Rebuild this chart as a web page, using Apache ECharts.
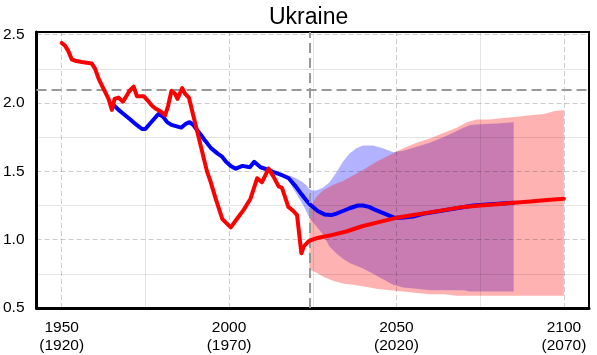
<!DOCTYPE html>
<html><head><meta charset="utf-8">
<script src="https://cdn.jsdelivr.net/npm/echarts@6/dist/echarts.min.js"></script>
<style>html,body{margin:0;padding:0;background:#fff}#c{width:597px;height:355px}</style>
</head><body><div id="c"></div>
<script>
const titleText = 'Ukraine';
const xTickValues = [1950, 2000, 2050, 2100];
const xTickLabels = ['1950\n(1920)', '2000\n(1970)', '2050\n(2020)', '2100\n(2070)'];
const xMinorGrid = [1975, 2025, 2075];
const yTickValues = [0.5, 1.0, 1.5, 2.0, 2.5];
const yMinorGrid = [0.75, 1.25, 1.75, 2.25];
const replacementLevel = 2.1;
const projectionStart = 2024;

// Period TFR (red)
const periodYears = [1950,1951,1952,1953,1954,1956,1959,1960,1961,1962,1963,1964,1965,1965.8,1967,1968.3,1969.3,1970.3,1971.5,1972.5,1973.3,1974.5,1976,1977,1978,1979.5,1980.9,1981.8,1982.8,1983.8,1984.6,1986,1986.8,1988,1989.2,1990.2,1991.7,1993.4,1994.4,1996,1998,2000.5,2002,2004.4,2006.4,2008.4,2009.8,2011.8,2013.3,2014.8,2015.8,2017.7,2019.2,2020.3,2021.6,2022.3,2023.8,2026,2030,2035,2040,2045,2050,2055,2060,2065,2070,2075,2080,2085,2090,2095,2100];
const periodTFR   = [2.44,2.42,2.38,2.32,2.31,2.30,2.29,2.25,2.18,2.13,2.08,2.03,1.95,2.03,2.04,2.01,2.05,2.09,2.12,2.05,2.05,2.05,2.01,1.98,1.96,1.94,1.91,1.98,2.09,2.07,2.03,2.11,2.07,2.04,1.92,1.82,1.67,1.50,1.43,1.30,1.15,1.09,1.14,1.22,1.30,1.45,1.42,1.52,1.46,1.39,1.38,1.24,1.21,1.18,0.90,0.95,0.99,1.01,1.03,1.06,1.10,1.13,1.16,1.18,1.20,1.22,1.24,1.25,1.26,1.27,1.28,1.29,1.30];

// Cohort TFR (blue)
const cohortYears = [1965.8,1967,1968.5,1970.5,1972.4,1974,1975,1976.4,1978.9,1980.3,1981.5,1982.8,1985.7,1987.2,1988.2,1989.3,1990.2,1991.5,1992.7,1994.6,1996.6,1997.8,1999.1,2000.5,2002,2004,2006.2,2007.5,2009.4,2011.9,2013.8,2016,2017.8,2019.9,2021.7,2023,2024.5,2026.5,2028.5,2030.5,2032,2034,2036,2038.5,2040,2041.8,2043.5,2045.5,2047.5,2049.5,2051.5,2055,2058,2063,2068,2073,2078,2085];
const cohortTFR   = [1.98,1.95,1.92,1.88,1.84,1.81,1.81,1.85,1.92,1.90,1.86,1.84,1.82,1.85,1.86,1.84,1.81,1.77,1.73,1.67,1.63,1.61,1.57,1.54,1.52,1.54,1.53,1.57,1.53,1.51,1.49,1.47,1.45,1.39,1.33,1.29,1.25,1.21,1.185,1.18,1.19,1.21,1.23,1.25,1.25,1.24,1.22,1.20,1.18,1.16,1.16,1.17,1.19,1.21,1.23,1.25,1.26,1.27];

// Cohort uncertainty band (blue)
const cohortBandYears = [2016.5,2018,2019,2020,2022,2023,2024,2025,2026,2028,2030,2032,2034,2036,2038,2040,2043,2046,2049,2052,2056,2060,2065,2070,2072,2075,2080,2085];
const cohortBandLow   = [1.47,1.43,1.38,1.34,1.26,1.21,1.16,1.13,1.10,1.04,0.95,0.90,0.86,0.83,0.81,0.79,0.75,0.71,0.67,0.65,0.64,0.63,0.63,0.63,0.62,0.62,0.62,0.62];
const cohortBandHigh  = [1.48,1.47,1.46,1.45,1.42,1.40,1.37,1.36,1.36,1.38,1.42,1.49,1.57,1.63,1.67,1.69,1.69,1.67,1.64,1.65,1.68,1.71,1.76,1.82,1.84,1.845,1.85,1.86];

// Period uncertainty band (red)
const periodBandYears = [2024,2026,2028,2031,2034,2037,2040,2044,2048,2052,2056,2060,2064,2068,2071,2074,2078,2082,2086,2090,2094,2097,2100];
const periodBandLow   = [0.78,0.76,0.73,0.70,0.68,0.67,0.66,0.64,0.63,0.62,0.61,0.60,0.60,0.59,0.59,0.59,0.59,0.59,0.59,0.59,0.59,0.59,0.59];
const periodBandHigh  = [1.22,1.31,1.36,1.40,1.43,1.47,1.51,1.57,1.62,1.67,1.71,1.74,1.78,1.82,1.86,1.88,1.88,1.89,1.90,1.91,1.92,1.94,1.95];

const FONT = '"Liberation Sans", Arial, Helvetica, sans-serif';
const zip = (xs, ys) => xs.map((x, i) => [x, ys[i]]);

function band(xs, lo, hi, color, z) {
  return {
    type: 'custom', z: z, silent: true, animation: false,
    data: xs.map((x, i) => [x, lo[i], hi[i]]),
    encode: { x: 0, y: [1, 2] },
    renderItem: function (params, api) {
      if (params.dataIndex !== 0) return null;
      const pts = [];
      for (let i = 0; i < xs.length; i++) pts.push(api.coord([xs[i], hi[i]]));
      for (let i = xs.length - 1; i >= 0; i--) pts.push(api.coord([xs[i], lo[i]]));
      return { type: 'polygon', shape: { points: pts }, style: { fill: color } };
    }
  };
}

const majorStyle = { color: 'rgba(0,0,0,0.2)', type: [5, 3], width: 1 };
const minorStyle = { color: 'rgba(0,0,0,0.1)', type: 'solid', width: 1 };
const refStyle = { color: '#999999', type: [10, 5], width: 2 };

const gridLines = []
  .concat(xTickValues.map(v => ({ xAxis: v, lineStyle: majorStyle })))
  .concat(xMinorGrid.map(v => ({ xAxis: v, lineStyle: minorStyle })))
  .concat(yTickValues.map(v => ({ yAxis: v, lineStyle: majorStyle })))
  .concat(yMinorGrid.map(v => ({ yAxis: v, lineStyle: minorStyle })));

const chart = echarts.init(document.getElementById('c'), null, { renderer: 'canvas' });
chart.setOption({
  animation: false,
  backgroundColor: '#ffffff',
  title: {
    text: titleText, left: 264, top: 1,
    textStyle: { fontFamily: FONT, fontSize: 23, fontWeight: 'normal', color: '#000' }
  },
  grid: { left: 32, right: 8, top: 32, bottom: 43, show: true, borderColor: '#000', borderWidth: 2, backgroundColor: 'transparent' },
  xAxis: {
    type: 'value', min: 1942.5, max: 2107.5,
    splitLine: { show: false }, axisTick: { show: false },
    axisLine: { show: true, onZero: false, lineStyle: { color: '#000', width: 3 } },
    axisLabel: {
      customValues: xTickValues, margin: 11,
      formatter: v => { const i = xTickValues.indexOf(v); return i >= 0 ? xTickLabels[i] : ''; },
      fontFamily: FONT, fontSize: 15.5, lineHeight: 18, color: '#000'
    }
  },
  yAxis: {
    type: 'value', min: 0.5, max: 2.52,
    splitLine: { show: false }, axisTick: { show: false },
    axisLine: { show: true, onZero: false, lineStyle: { color: '#000', width: 3 } },
    axisLabel: {
      customValues: yTickValues, margin: 12,
      formatter: v => v.toFixed(1),
      fontFamily: FONT, fontSize: 15.5, color: '#000'
    }
  },
  series: [
    band(cohortBandYears, cohortBandLow, cohortBandHigh, 'rgba(0,0,255,0.3)', 1),
    band(periodBandYears, periodBandLow, periodBandHigh, 'rgba(255,0,0,0.3)', 1),
    {
      type: 'line', z: 2, silent: true, data: [[1942.5, 0.5]], showSymbol: false, lineStyle: { width: 0 },
      markLine: { symbol: 'none', silent: true, animation: false, label: { show: false }, data: gridLines }
    },
    {
      type: 'line', z: 3, silent: true, data: [[1942.5, 0.5]], showSymbol: false, lineStyle: { width: 0 },
      markLine: { symbol: 'none', silent: true, animation: false, label: { show: false },
        data: [{ yAxis: replacementLevel, lineStyle: refStyle }, { xAxis: projectionStart, lineStyle: refStyle }] }
    },
    {
      name: 'Cohort', type: 'line', z: 4, data: zip(cohortYears, cohortTFR), showSymbol: false,
      lineStyle: { color: '#0000ff', width: 4, join: 'round', cap: 'round' }, itemStyle: { color: '#0000ff' }
    },
    {
      name: 'Period', type: 'line', z: 5, data: zip(periodYears, periodTFR), showSymbol: false,
      lineStyle: { color: '#ff0000', width: 4, join: 'round', cap: 'round' }, itemStyle: { color: '#ff0000' }
    }
  ]
});
</script>
</body></html>
